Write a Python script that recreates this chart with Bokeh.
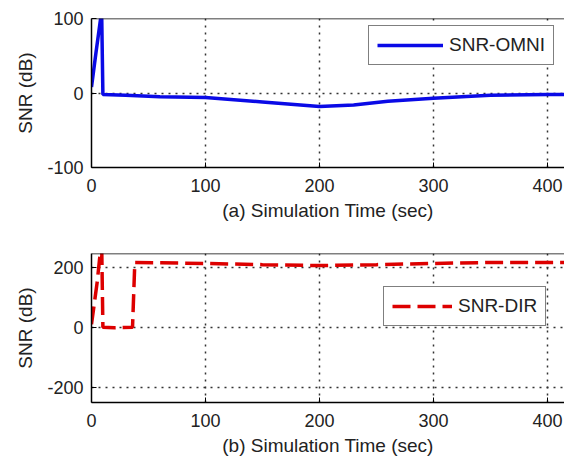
from bokeh.plotting import figure
from bokeh.layouts import column
from bokeh.models import FixedTicker, Range1d, Span, Legend, LegendItem
from bokeh.embed import file_html
from bokeh.resources import INLINE

# ---- data ----
omni_time = [0, 4, 8, 9, 10, 30, 60, 100, 150, 200, 230, 260, 300, 350, 400, 415]
omni_snr = [8, 55, 100, 100, -2, -3, -5, -6, -12, -18, -16, -11, -7, -3, -2, -2]

dir_time = [0, 5, 8, 9, 10, 20, 36, 38, 100, 150, 200, 250, 300, 350, 400, 415]
dir_snr = [10, 150, 260, 260, 0, -2, 0, 215, 212, 208, 205, 208, 212, 215, 215, 215]

x_ticks = [0, 100, 200, 300, 400]
top_y_ticks = [-100, 0, 100]
bot_y_ticks = [-200, 0, 200]

x_label_a = "(a) Simulation Time (sec)"
x_label_b = "(b) Simulation Time (sec)"
y_label = "SNR (dB)"

X_END = 415
TOP_Y = (-100, 100)
BOT_Y = (-250, 245)

FONT = "Liberation Sans"


def style(p, yticks, xlabel):
    p.xaxis.ticker = FixedTicker(ticks=x_ticks)
    p.yaxis.ticker = FixedTicker(ticks=yticks)
    p.yaxis.major_label_overrides = {t: str(t) for t in yticks}
    p.xaxis.axis_label = xlabel
    p.yaxis.axis_label = y_label
    for ax in (p.xaxis, p.yaxis):
        ax.axis_label_text_font = FONT
        ax.axis_label_text_font_size = "19px"
        ax.axis_label_text_font_style = "normal"
        ax.axis_label_text_color = "#222222"
        ax.major_label_text_font = FONT
        ax.major_label_text_font_size = "18px"
        ax.major_label_text_color = "#222222"
        ax.major_tick_in = 5
        ax.major_tick_out = 0
        ax.minor_tick_in = 0
        ax.minor_tick_out = 0
        ax.axis_line_color = "black"
        ax.axis_line_width = 1.5
        ax.major_tick_line_color = "black"
    p.xaxis.major_label_standoff = 11
    p.yaxis.major_label_standoff = 8
    p.xaxis.axis_label_standoff = 5
    p.yaxis.axis_label_standoff = 8
    for g in (p.xgrid, p.ygrid):
        g.grid_line_color = "#333333"
        g.grid_line_dash = "2 5"
        g.grid_line_width = 1.5
        g.grid_line_alpha = 1.0
    p.xgrid.ticker = FixedTicker(ticks=x_ticks)
    p.ygrid.ticker = FixedTicker(ticks=yticks)
    p.outline_line_color = None
    p.add_layout(Span(location=p.y_range.end, dimension="width",
                      line_color="black", line_width=1.5))
    p.background_fill_color = "white"
    p.border_fill_color = "white"


p1 = figure(width=564, height=230, output_backend="svg", toolbar_location=None,
            x_range=Range1d(0, X_END), y_range=Range1d(*TOP_Y),
            min_border_left=91, min_border_right=0, min_border_top=18,
            min_border_bottom=63)
style(p1, top_y_ticks, x_label_a)
r1 = p1.line(omni_time, omni_snr, line_color="#0a0ae6", line_width=3.5)
leg1 = Legend(items=[LegendItem(label="SNR-OMNI", renderers=[r1])],
              location=(277, 102))
p1.add_layout(leg1, "center")

p2 = figure(width=564, height=230, output_backend="svg", toolbar_location=None,
            x_range=Range1d(0, X_END), y_range=Range1d(*BOT_Y),
            min_border_left=91, min_border_right=0, min_border_top=23,
            min_border_bottom=58)
style(p2, bot_y_ticks, x_label_b)
r2 = p2.line(dir_time, dir_snr, line_color="#dd0000", line_width=3.5,
             line_dash="18 7")
leg2 = Legend(items=[LegendItem(label="SNR-DIR", renderers=[r2])],
              location=(292, 76))
p2.add_layout(leg2, "center")

for leg in (leg1, leg2):
    leg.label_text_font = FONT
    leg.label_text_font_size = "19px"
    leg.label_text_color = "#222222"
    leg.border_line_color = "black"
    leg.border_line_width = 1.2
    leg.background_fill_color = "white"
    leg.background_fill_alpha = 1.0
    leg.glyph_height = 20
    leg.label_height = 20
    leg.padding = 8
    leg.margin = 0
    leg.label_standoff = 6
leg1.glyph_width = 66
leg2.glyph_width = 60

layout = column(p1, p2, spacing=0)
open("out.html", "w").write(file_html(layout, INLINE))
